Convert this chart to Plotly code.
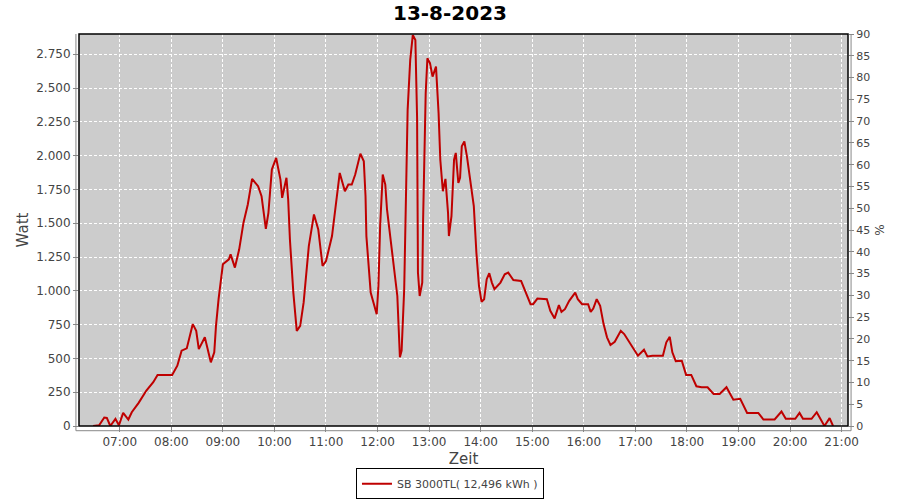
import plotly.graph_objects as go

DATE = "2023-08-13"
TITLE = "13-8-2023"
SERIES_NAME = "SB 3000TL( 12,496 kWh )"

times = [
    "06:29", "06:33", "06:36", "06:42", "06:45", "06:49", "06:55", "06:59", "07:04", "07:10",
    "07:14", "07:22", "07:31", "07:39", "07:44", "08:01", "08:07", "08:12", "08:18", "08:25",
    "08:29", "08:32", "08:39", "08:46", "08:50", "08:52", "08:55", "09:00", "09:07", "09:09",
    "09:14", "09:19", "09:24", "09:29", "09:34", "09:41", "09:45", "09:50", "09:53", "09:57",
    "10:02", "10:07", "10:09", "10:14", "10:16", "10:18", "10:22", "10:26", "10:30", "10:34",
    "10:40", "10:46", "10:51", "10:56", "11:00", "11:07", "11:11", "11:16", "11:22", "11:26",
    "11:30", "11:34", "11:40", "11:44", "11:46", "11:47", "11:52", "11:56", "11:59", "12:01",
    "12:03", "12:06", "12:09", "12:11", "12:14", "12:19", "12:23", "12:26", "12:28", "12:31",
    "12:33", "12:35", "12:38", "12:41", "12:44", "12:46", "12:47", "12:49", "12:52", "12:53",
    "12:56", "12:58", "13:01", "13:04", "13:08", "13:11", "13:13", "13:16", "13:19", "13:22",
    "13:23", "13:26", "13:29", "13:31", "13:34", "13:36", "13:38", "13:41", "13:44", "13:47",
    "13:52", "13:55", "13:58", "14:01", "14:04", "14:07", "14:10", "14:13", "14:16", "14:23",
    "14:28", "14:32", "14:38", "14:47", "14:52", "14:58", "15:01", "15:06", "15:17", "15:21",
    "15:26", "15:31", "15:34", "15:38", "15:43", "15:50", "15:53", "15:58", "16:05", "16:08",
    "16:11", "16:15", "16:19", "16:23", "16:27", "16:31", "16:36", "16:43", "16:47", "16:52",
    "16:57", "17:03", "17:10", "17:14", "17:20", "17:32", "17:36", "17:40", "17:43", "17:47",
    "17:54", "17:59", "18:05", "18:11", "18:17", "18:24", "18:31", "18:38", "18:46", "18:54",
    "19:02", "19:10", "19:23", "19:29", "19:35", "19:42", "19:50", "19:55", "20:06", "20:11",
    "20:15", "20:25", "20:31", "20:35", "20:40", "20:46", "20:50",
]

watt = [
    0, 0, 5, 63, 60, 0, 53, 5, 97, 48,
    102, 171, 262, 324, 378, 378, 446, 557, 574, 754,
    704, 569, 656, 471, 545, 741, 938, 1196, 1233, 1270,
    1172, 1307, 1504, 1639, 1828, 1774, 1700, 1459, 1577, 1897,
    1983, 1823, 1688, 1836, 1676, 1381, 987, 704, 741, 914,
    1331, 1565, 1454, 1184, 1220, 1405, 1626, 1872, 1737, 1786,
    1786, 1860, 2015, 1958, 1700, 1405, 987, 901, 827, 1036,
    1479, 1860, 1786, 1602, 1430, 1184, 962, 508, 557, 1012,
    1749, 2339, 2708, 2892, 2855, 2278, 1135, 962, 1061, 1528,
    2462, 2720, 2684, 2585, 2659, 2315, 1970, 1737, 1828, 1577,
    1405, 1552, 1970, 2020, 1799, 1836, 2069, 2105, 1995, 1847,
    1626, 1282, 1036, 918, 938, 1086, 1130, 1061, 1012, 1061,
    1122, 1135, 1080, 1073, 999, 901, 901, 943, 938, 852,
    796, 894, 844, 864, 926, 987, 938, 901, 901, 844,
    869, 938, 889, 754, 656, 599, 623, 704, 680, 631,
    582, 520, 564, 515, 520, 520, 619, 660, 545, 480,
    483, 378, 378, 294, 287, 287, 237, 237, 287, 195,
    201, 97, 97, 48, 48, 48, 107, 53, 53, 97,
    53, 53, 102, 53, 0, 58, 0,
]

x_range = ["2023-08-13 06:12:36", "2023-08-13 21:07:24"]
watt_range = [0, 2900]
pct_range = [0, 90]

xs = [f"{DATE} {t}" for t in times]

GRID = "#FFFFFF"
AXIS_GREY = "#888888"
TXT = "#444444"
FONT = "DejaVu Sans"
DASH = "3px,2px"

fig = go.Figure()
fig.add_trace(go.Scatter(
    x=xs, y=watt, mode="lines", name=SERIES_NAME,
    line=dict(color="#BF0000", width=2),
))
fig.add_trace(go.Scatter(x=[None], y=[None], yaxis="y2", showlegend=False,
                         mode="lines", hoverinfo="skip"))

fig.update_layout(
    width=900, height=500,
    margin=dict(l=79, r=52, t=34, b=74, autoexpand=False),
    paper_bgcolor="white",
    plot_bgcolor="#CCCCCC",
    separators=",.",
    font=dict(family=FONT, size=12, color=TXT),
    title=dict(text=f"<b>{TITLE}</b>", x=0.5, xanchor="center", y=0.974, yanchor="middle",
               font=dict(family=FONT, size=20, color="#000000")),
    xaxis=dict(
        type="date", range=x_range, dtick=3600000, tickformat="%H:%M",
        showgrid=True, gridcolor=GRID, griddash=DASH, gridwidth=1,
        ticks="outside", ticklen=5, tickcolor=AXIS_GREY,
        showline=False, zeroline=False, automargin=False,
        title=dict(text="Zeit", font=dict(size=15, color=TXT), standoff=5),
        tickfont=dict(size=12, color=TXT),
    ),
    yaxis=dict(
        range=watt_range, dtick=250, tickformat=",d",
        showgrid=True, gridcolor=GRID, griddash=DASH, gridwidth=1,
        ticks="outside", ticklen=5, tickcolor=AXIS_GREY,
        showline=False, zeroline=False, automargin=False,
        title=dict(text="Watt", font=dict(size=15, color=TXT), standoff=3),
        tickfont=dict(size=12, color=TXT),
    ),
    yaxis2=dict(
        overlaying="y", side="right", range=pct_range, dtick=5,
        showgrid=False, zeroline=False, automargin=False,
        ticks="outside", ticklen=5, tickcolor=AXIS_GREY,
        title=dict(text="%", font=dict(size=12, color=TXT), standoff=6),
        tickfont=dict(size=11, color=TXT),
    ),
    legend=dict(
        orientation="h", x=0.4824, xanchor="center", y=-0.187, yanchor="bottom",
        bordercolor="#000000", borderwidth=1, bgcolor="white",
        font=dict(size=11, color=TXT), itemwidth=30,
    ),
    showlegend=True,
)

# plot border and offset axis lines
fig.add_shape(type="rect", xref="paper", yref="paper", x0=0, x1=1, y0=0, y1=1,
              line=dict(color="#000000", width=1.5), fillcolor="rgba(0,0,0,0)", layer="above")
fig.add_shape(type="line", xref="paper", yref="paper", x0=-0.004, x1=-0.004, y0=-0.012, y1=1,
              line=dict(color=AXIS_GREY, width=1))
fig.add_shape(type="line", xref="paper", yref="paper", x0=1.004, x1=1.004, y0=-0.012, y1=1,
              line=dict(color=AXIS_GREY, width=1))
fig.add_shape(type="line", xref="paper", yref="paper", x0=-0.004, x1=1.004, y0=-0.012, y1=-0.012,
              line=dict(color=AXIS_GREY, width=1))

fig.write_html("out.html", config={"displayModeBar": False},
               post_script="document.body.style.margin='0';document.body.style.overflow='hidden';")
